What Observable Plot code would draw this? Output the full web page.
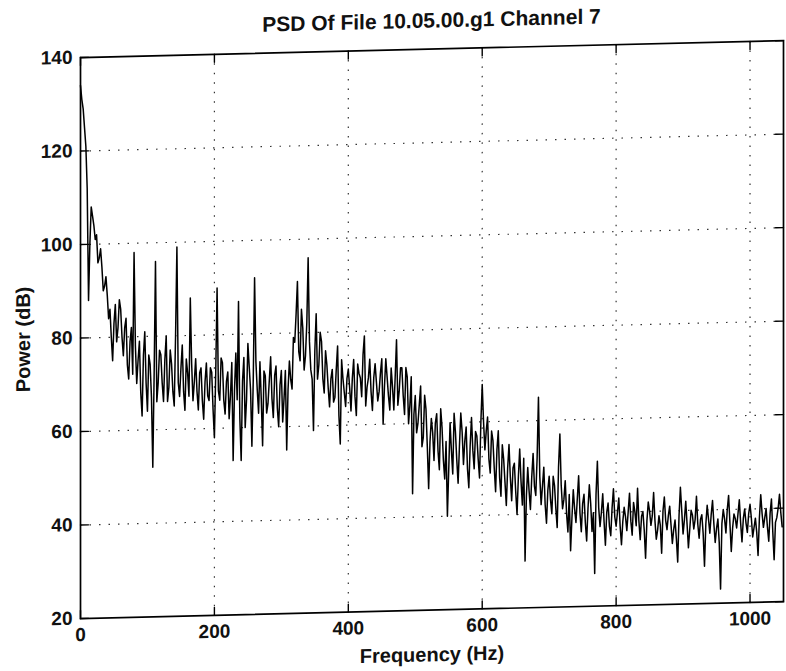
<!DOCTYPE html>
<html><head><meta charset="utf-8">
<script src="https://cdn.jsdelivr.net/npm/d3@7"></script>
<script src="https://cdn.jsdelivr.net/npm/@observablehq/plot@0.6"></script>
<style>
html,body{margin:0;padding:0;background:#fff;overflow:hidden}
#wrap{width:786px;height:671px;transform:skewY(-1.38deg);transform-origin:0 0;}
#title{box-sizing:border-box;height:50px;padding:19px 0 0 80px;width:783px;text-align:center;font:bold 21px/24px "Liberation Sans",Arial,sans-serif;color:#111;}
#chart svg{overflow:visible}
</style></head><body>
<div id="wrap"><div id="title"></div><div id="chart"></div></div>
<script>
const titleText = "PSD Of File 10.05.00.g1 Channel 7";
const xLabel = "Frequency (Hz)";
const yLabel = "Power (dB)";
const freqStep = 4; // Hz between bins in each array; the second array sits half a step later
// power at 0, 4, 8, ... 1048 Hz
const power = [
 134,129,121,88,108,104,102,97,95,91,
 89,86,75,87,82,86,76,84,71,82,
 98,70,79,63,81,64,74,52,96,70,
 76,66,80,69,74,65,99,67,78,64,
 72,88,66,75,64,73,62,74,66,72,
 58,90,66,74,63,72,67,53,76,87,
 53,75,66,73,56,92,68,74,56,71,
 65,75,62,73,60,72,66,55,74,68,
 78,91,74,81,75,96,72,59,84,73,
 78,67,73,64,72,66,77,56,70,64,
 72,63,74,62,71,66,79,68,74,63,
 73,65,71,60,74,66,72,63,78,67,
 72,62,70,64,45,66,60,68,57,63,
 46,61,52,62,50,59,48,40,60,49,
 58,47,62,51,59,46,61,50,57,48,
 68,54,61,49,56,45,58,44,52,42,
 55,43,51,40,54,42,30,50,41,53,
 44,65,42,50,38,48,40,46,37,57,
 41,47,36,32,45,38,48,36,44,34,
 46,36,27,51,37,44,33,42,35,45,
 37,43,33,41,36,44,35,40,45,34,
 40,30,42,37,44,34,39,31,43,36,
 41,33,38,29,45,35,42,32,40,36,
 43,34,39,28,41,35,42,33,38,23,
 40,35,43,31,39,36,42,33,40,35,
 41,34,38,30,43,36,40,33,42,29,
 38,43,36
];
// power at 2, 6, 10, ... 1046 Hz
const powerMid = [
 131,125,112,100,106,101,96,99,90,93,
 84,80,83,79,88,80,82,74,79,72,
 78,75,68,76,70,76,67,72,66,77,
 70,75,66,77,68,80,70,73,68,75,
 67,74,70,68,72,66,70,67,73,64,
 72,68,75,66,70,62,74,68,66,62,
 70,60,78,68,70,74,63,66,72,63,
 70,66,71,64,69,61,72,68,70,79,
 84,76,85,72,82,78,70,76,70,80,
 70,76,68,70,65,72,62,74,67,70,
 68,70,66,73,70,75,64,70,67,70,
 69,67,74,68,70,63,68,70,64,72,
 66,72,60,70,62,58,64,55,66,55,
 56,58,60,54,63,52,56,50,54,62,
 52,55,58,56,50,55,54,58,52,60,
 60,58,52,58,50,54,48,55,47,50,
 48,50,45,48,47,52,44,45,48,46,
 52,48,46,42,45,43,48,41,50,46,
 43,40,44,39,41,43,40,42,38,41,
 42,40,44,41,40,38,40,37,41,39,
 40,37,38,39,40,38,42,37,38,39,
 36,38,40,39,38,36,37,40,38,39,
 37,36,34,39,40,38,37,36,39,38,
 37,38,35,37,38,39,37,36,33,37,
 38,40,37,36,38,39,37,38,37,39,
 38,36,35,38,39,38,36,39,35,37,
 40,39
];
const xTicks = [0, 200, 400, 600, 800, 1000];
const yTicks = [20, 40, 60, 80, 100, 120, 140];
const xDomain = [0, 1050];
const yDomain = [20, 140];

document.getElementById("title").textContent = titleText;
const data = [];
power.forEach((p, i) => {
  data.push({f: i * freqStep, p});
  if (i < powerMid.length) data.push({f: i * freqStep + freqStep / 2, p: powerMid[i]});
});
const tickShape = {draw(ctx, l) { ctx.moveTo(0, 0); ctx.lineTo(0, -l); }};
const tickStyle = {length: 8, anchor: "start", shape: tickShape, stroke: "#000", strokeWidth: 1.4};
const fmt = d => String(d);

const chart = Plot.plot({
  width: 786, height: 621,
  marginTop: 9, marginBottom: 51, marginLeft: 80, marginRight: 3,
  style: {fontFamily: "Liberation Sans, Arial, sans-serif", fontSize: "19px", fontWeight: "bold", color: "#111", background: "#fff", overflow: "visible"},
  x: {domain: xDomain},
  y: {domain: yDomain},
  marks: [
    Plot.gridX(xTicks.slice(1), {stroke: "#000", strokeOpacity: 0.8, strokeWidth: 1.2, strokeDasharray: "1.5,8"}),
    Plot.gridY(yTicks.slice(1, -1), {stroke: "#000", strokeOpacity: 0.8, strokeWidth: 1.2, strokeDasharray: "1.5,8"}),
    Plot.line(data, {x: "f", y: "p", stroke: "#000", strokeWidth: 1.5}),
    Plot.frame({stroke: "#000", strokeWidth: 1.7}),
    Plot.vector(xTicks, {x: d => d, y: yDomain[0], rotate: 0, ...tickStyle}),
    Plot.vector(xTicks, {x: d => d, y: yDomain[1], rotate: 180, ...tickStyle}),
    Plot.vector(yTicks, {y: d => d, x: xDomain[0], rotate: 90, ...tickStyle}),
    Plot.vector(yTicks, {y: d => d, x: xDomain[1], rotate: 270, ...tickStyle}),
    Plot.axisX(xTicks, {tickSize: 0, tickPadding: 9, fontSize: 19, tickFormat: fmt, label: null}),
    Plot.axisY(yTicks, {tickSize: 0, tickPadding: 8, fontSize: 19, tickFormat: fmt, label: null}),
    Plot.text([xLabel], {frameAnchor: "bottom", dy: 37, lineAnchor: "top", fontSize: 20, fontWeight: "bold"}),
    Plot.text([yLabel], {frameAnchor: "left", dx: -57, rotate: -90, textAnchor: "middle", fontSize: 20, fontWeight: "bold"})
  ]
});
document.getElementById("chart").append(chart);
</script>
</body></html>
